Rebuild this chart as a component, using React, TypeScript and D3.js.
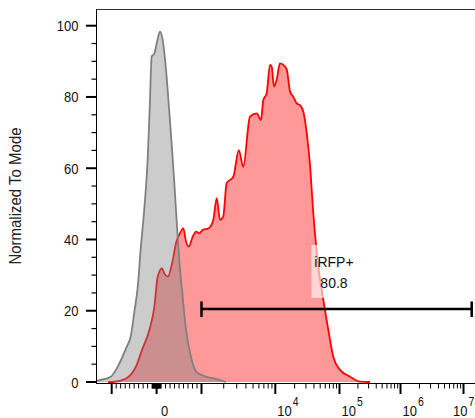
import { useEffect, useRef } from "react";
import * as d3 from "d3";

// control (grey) histogram: fluorescence intensity vs % of mode
const grayIntensity = [-2200, -2100, -1050, -830, -680, -570, -500, -420, -350, -270, -200, -150, -110, -50, 10, 75, 135, 210, 280, 340, 400, 455, 505, 580, 655, 765, 880, 1150, 1610, 2150];
const grayPct = [0.2, 0.3, 1.5, 5.2, 9.5, 13.2, 19.3, 26.7, 38, 49.2, 62.3, 78.2, 91.3, 92.2, 95.5, 98.3, 96, 87.6, 76.3, 66, 54.8, 43.6, 34.2, 23.9, 14.6, 7.1, 2.9, 1.5, 0.8, 0];

// iRFP sample (red) histogram
const redIntensity = [-1200, -980, -680, -460, -310, -160, -50, 25, 120, 170, 250, 360, 430, 520, 595, 655, 715, 805, 880, 950, 1040, 1240, 1445, 1610, 1780, 1970, 2190, 2700, 3200, 3680, 4540, 5600, 6400, 6870, 7640, 8470, 8930, 9600, 10500, 11800, 13300, 15100, 17000, 19000, 21500, 24300, 27300, 30800, 34700, 39100, 46800, 56000, 67000, 80000, 102000, 149000, 217000, 316000];
const redPct = [0, 0, 1, 4.3, 9.5, 14.6, 21.1, 29.6, 31.9, 30.5, 29.6, 34.2, 38.9, 41.7, 43.1, 39.4, 38, 40.8, 42.2, 41.7, 42.7, 43.1, 45.5, 51.6, 45.5, 46.4, 55.8, 57.6, 65.1, 60.4, 74.5, 75.4, 73.5, 79.1, 81, 89, 88.5, 82.9, 84.8, 89.4, 89, 87.6, 81.5, 80.1, 78.2, 77.7, 75.9, 70, 61, 47.3, 32.4, 23, 14.6, 7.1, 3.4, 1.5, 0.1, 0];

const yMajorTicks = [0, 20, 40, 60, 80, 100];
const xMajorTicks = [-1000, 0, 1000, 1e4, 1e5, 1e6, 1e7];
const xLabelBase = ["", "0", "", "10", "10", "10", "10"];
const xLabelExp = ["", "", "", "4", "5", "6", "7"];

const gateRange = [1000, 1.35e7];
const gateLevel = 20.5;
const gateLabelAt = 8.2e4;
const gateName = "iRFP+";
const gateValue = "80.8";
const yTitle = "Normalized To Mode";

// biexponential display: linear inside +-1000, log10 decades outside
const biex = (v: number) => {
  const a = Math.abs(v);
  if (a <= 1000) return v / 1000;
  return Math.sign(v) * (Math.log10(a) - 2);
};

const App = () => {
  const svgRef = useRef<SVGSVGElement>(null);

  useEffect(() => {
    const w = 475;
    const h = 418;
    const left = 96;
    const top = 9;
    const axisY = 383.5;
    const font = "Arial, 'Liberation Sans', sans-serif";

    const svg = d3.select(svgRef.current);
    svg.selectAll("*").remove();

    // decade widths on screen (the biex axis is not uniform near zero)
    const decadeWidths = [44.9, 44.9, 73.8, 64.2, 61, 63];
    const xStart = 111.7;
    const xRange = [xStart, ...d3.cumsum(decadeWidths).map((d) => xStart + d)];
    const xT = d3.scaleLinear().domain([-1, 0, 1, 2, 3, 4, 5]).range(xRange);
    const x = (v: number) => xT(biex(v));
    const y = d3.scaleLinear().domain([0, 100]).range([382, 25.7]);

    svg
      .append("defs")
      .append("clipPath")
      .attr("id", "plot")
      .append("rect")
      .attr("x", left)
      .attr("y", top)
      .attr("width", w - left)
      .attr("height", axisY - top);

    const area = d3
      .area<[number, number]>()
      .x((d) => x(d[0]))
      .y0(y(0))
      .y1((d) => y(d[1]))
      .curve(d3.curveMonotoneX);
    const line = d3
      .line<[number, number]>()
      .x((d) => x(d[0]))
      .y((d) => y(d[1]))
      .curve(d3.curveMonotoneX);

    const red = redIntensity.map((v, i) => [v, redPct[i]] as [number, number]);
    const gray = grayIntensity.map((v, i) => [v, grayPct[i]] as [number, number]);

    const g = svg.append("g").attr("clip-path", "url(#plot)");
    g.append("path").attr("d", area(red)).attr("fill", "rgba(255,0,0,0.4)");
    g.append("path").attr("d", line(red)).attr("fill", "none").attr("stroke", "#ff0000").attr("stroke-width", 1.8);
    g.append("path").attr("d", area(gray)).attr("fill", "rgba(128,128,128,0.4)");
    g.append("path").attr("d", line(gray)).attr("fill", "none").attr("stroke", "#808080").attr("stroke-width", 1.8);

    // frame
    svg.append("line").attr("x1", left).attr("x2", w).attr("y1", top + 0.5).attr("y2", top + 0.5).attr("stroke", "#333");
    svg.append("line").attr("x1", left + 0.5).attr("x2", left + 0.5).attr("y1", top).attr("y2", axisY + 0.5).attr("stroke", "#000");
    svg.append("line").attr("x1", left).attr("x2", w).attr("y1", axisY).attr("y2", axisY).attr("stroke", "#000");

    // y axis ticks
    const yMinor = d3.range(0, 101, 5).filter((v) => v % 20 !== 0);
    svg.selectAll(".ymin").data(yMinor).join("line")
      .attr("x1", left - 4.5).attr("x2", left).attr("y1", (d) => y(d)).attr("y2", (d) => y(d))
      .attr("stroke", "#000").attr("stroke-width", 1.2);
    svg.selectAll(".ymaj").data(yMajorTicks).join("line")
      .attr("x1", left - 10).attr("x2", left).attr("y1", (d) => y(d)).attr("y2", (d) => y(d))
      .attr("stroke", "#000").attr("stroke-width", 2);
    svg.selectAll(".ylab").data(yMajorTicks).join("text")
      .attr("transform", (d) => `translate(78.5,${y(d) + 5.5}) scale(1,1.15)`)
      .attr("text-anchor", "end")
      .attr("font-family", font).attr("font-size", 13).attr("fill", "#111")
      .text((d) => d);

    svg.append("text")
      .attr("transform", "translate(20.5,196) rotate(-90) scale(1,1.15)")
      .attr("text-anchor", "middle")
      .attr("font-family", font).attr("font-size", 15).attr("fill", "#222")
      .text(yTitle);

    // x axis ticks
    const xMinor = [
      ...d3.range(-900, 0, 100),
      ...d3.range(-90, 0, 10),
      ...d3.range(10, 100, 10),
      ...d3.range(100, 1000, 100),
      ...[3, 4, 5, 6].flatMap((p) => d3.range(2, 10).map((k) => k * 10 ** p)),
    ];
    svg.selectAll(".xmin").data(xMinor).join("line")
      .attr("x1", (d) => x(d)).attr("x2", (d) => x(d)).attr("y1", axisY).attr("y2", axisY + 5)
      .attr("stroke", "#000").attr("stroke-width", 1);
    svg.selectAll(".xmaj").data(xMajorTicks).join("line")
      .attr("x1", (d) => x(d)).attr("x2", (d) => x(d)).attr("y1", axisY).attr("y2", axisY + 10.5)
      .attr("stroke", "#000").attr("stroke-width", 2);

    xMajorTicks.forEach((v, i) => {
      if (!xLabelBase[i]) return;
      const t = svg.append("text")
        .attr("font-family", font).attr("font-size", 13).attr("fill", "#111");
      if (!xLabelExp[i]) {
        t.attr("transform", `translate(${x(v) + 8},416) scale(1,1.15)`).attr("text-anchor", "middle").text(xLabelBase[i]);
      } else {
        // keep the last label inside the picture
        const lx = Math.min(x(v) + 2, w - 22);
        t.attr("transform", `translate(${lx},416) scale(1,1.15)`);
        t.append("tspan").text(xLabelBase[i]);
        t.append("tspan").attr("dx", 1).attr("dy", -9).attr("font-size", 10.5).text(xLabelExp[i]);
      }
    });

    // gate
    const gy = y(gateLevel);
    const gx0 = x(gateRange[0]);
    const gx1 = x(gateRange[1]);
    const lx = x(gateLabelAt);
    svg.append("rect")
      .attr("x", lx - 22.5).attr("y", gy - 64).attr("width", 45.5).attr("height", 53)
      .attr("fill", "#fff").attr("fill-opacity", 0.6);
    svg.append("line").attr("x1", gx0).attr("x2", gx1).attr("y1", gy).attr("y2", gy)
      .attr("stroke", "#000").attr("stroke-width", 2.5);
    [gx0, gx1].forEach((gx) => {
      svg.append("line").attr("x1", gx).attr("x2", gx).attr("y1", gy - 7.5).attr("y2", gy + 8)
        .attr("stroke", "#000").attr("stroke-width", 2.5);
    });
    svg.append("text")
      .attr("transform", `translate(${lx},${gy - 41.7}) scale(1,1.1)`)
      .attr("text-anchor", "middle")
      .attr("font-family", font).attr("font-size", 14).attr("fill", "#111")
      .text(gateName);
    svg.append("text")
      .attr("transform", `translate(${lx},${gy - 20.7}) scale(1,1.1)`)
      .attr("text-anchor", "middle")
      .attr("font-family", font).attr("font-size", 14).attr("fill", "#111")
      .text(gateValue);
  }, []);

  return (
    <svg
      ref={svgRef}
      width={475}
      height={418}
      style={{ position: "absolute", left: 0, top: 0, display: "block", background: "#fff" }}
    ></svg>
  );
};

export default App;
